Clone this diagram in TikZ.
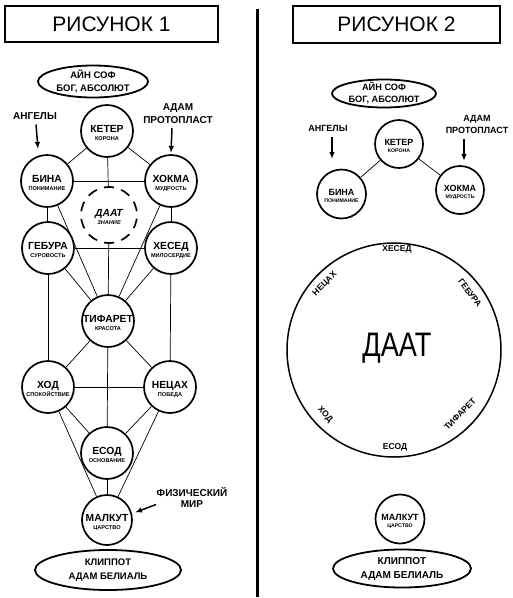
\documentclass[tikz,border=0pt]{standalone}
\usepackage{fontspec}
\setmainfont{Liberation Sans}
\usetikzlibrary{arrows.meta,backgrounds,shapes.geometric}
\newcommand\sefira[6]{%
  \node[sef,minimum size=#6] (#1) at (#2) {};
  \path (#1.center) ++(0,1.5) node[nm] (#1-n) {#3} ++(0,8) node[sb] (#1-s) {#4};}
\begin{document}
\begin{tikzpicture}[x=1pt,y=-1pt,
  sef/.style={circle,draw,line width=1.7pt,fill=white,inner sep=0pt},
  nm/.style={anchor=base,inner sep=0pt,font=\bfseries\fontsize{10.3}{10}\selectfont},
  sb/.style={anchor=base,inner sep=0pt,font=\bfseries\fontsize{5.6}{6}\selectfont},
  nmr/.style={anchor=base,inner sep=0pt,font=\bfseries\fontsize{9}{9}\selectfont},
  sbr/.style={anchor=base,inner sep=0pt,font=\bfseries\fontsize{5.2}{6}\selectfont},
  link/.style={line width=0.7pt},
  ptr/.style={line width=1.5pt,-{Latex[length=7pt,width=5.5pt]}},
  lbl/.style={inner sep=0pt,align=center,font=\bfseries\fontsize{10}{12.5}\selectfont},
  lblr/.style={inner sep=0pt,align=center,font=\bfseries\fontsize{9}{12.5}\selectfont},
  oval/.style={ellipse,draw,line width=1.8pt,fill=white,inner sep=0pt},
  titlebox/.style={draw,line width=1.3pt,inner sep=0pt,font=\fontsize{21}{24}\selectfont},
  ring/.style={inner sep=0pt,font=\bfseries\fontsize{8.5}{9}\selectfont}
]
\useasboundingbox (0,0) rectangle (513,598);

% titles and divider
\node[titlebox,minimum width=213pt,minimum height=36pt] (t1) at (111.5,24) {РИСУНОК 1};
\node[titlebox,minimum width=207pt,minimum height=37pt] (t2) at (396.5,24.5) {РИСУНОК 2};
\coordinate (divA) at (257,9);
\coordinate (divB) at (257,597);
\draw[line width=3pt] (divA) -- (divB);

% ===== left picture =====
\node[oval,minimum width=110pt,minimum height=32pt] (ain) at (93,81.5) {};
\node[lbl,font=\bfseries\fontsize{9.5}{13.5}\selectfont] (ain-t) at (ain) {АЙН СОФ\\БОГ, АБСОЛЮТ};

\sefira{keter}{107,131}{КЕТЕР}{КОРОНА}{}{52pt}
\sefira{bina}{47,181}{БИНА}{ПОНИМАНИЕ}{}{52pt}
\sefira{hokma}{171,181}{ХОКМА}{МУДРОСТЬ}{}{52pt}
\sefira{gebura}{48,248}{ГЕБУРА}{СУРОВОСТЬ}{}{52pt}
\sefira{hesed}{171,248}{ХЕСЕД}{МИЛОСЕРДИЕ}{}{52pt}
\sefira{tifaret}{108,321}{ТИФАРЕТ}{КРАСОТА}{}{52pt}
\sefira{hod}{48,387}{ХОД}{СПОКОЙСТВИЕ}{}{52pt}
\sefira{netsah}{170,387}{НЕЦАХ}{ПОБЕДА}{}{52pt}
\sefira{yesod}{107,453}{ЕСОД}{ОСНОВАНИЕ}{}{52pt}
\sefira{malkut}{107,520}{МАЛКУТ}{ЦАРСТВО}{}{50pt}

\node[circle,draw,line width=1.7pt,fill=white,inner sep=0pt,minimum size=56pt,
      dash pattern=on 10pt off 7.59pt,dash phase=13.8pt] (daat) at (109,215) {};
\path (daat.center) ++(0,1.5) node[nm,font=\bfseries\itshape\fontsize{10.3}{10}\selectfont] (daat-n) {ДААТ}
      ++(0,8) node[sb,font=\bfseries\itshape\fontsize{5.6}{6}\selectfont] (daat-s) {ЗНАНИЕ};

\node[oval,minimum width=146pt,minimum height=40pt] (klip) at (108,570) {};
\node[lbl,font=\bfseries\fontsize{9.5}{14}\selectfont] (klip-t) at (klip) {КЛИППОТ\\АДАМ БЕЛИАЛЬ};

\begin{scope}[on background layer]
  \draw[link] (keter) -- (bina);
  \draw[link] (keter) -- (hokma);
  \draw[link] (keter) -- (daat);
  \draw[link] (bina) -- (hokma);
  \draw[link] (bina) -- (gebura);
  \draw[link] (hokma) -- (hesed);
  \draw[link] (bina) -- (tifaret);
  \draw[link] (hokma) -- (tifaret);
  \draw[link] (daat) -- (tifaret);
  \draw[link] (gebura) -- (hesed);
  \draw[link] (gebura) -- (tifaret);
  \draw[link] (hesed) -- (tifaret);
  \draw[link] (gebura) -- (hod);
  \draw[link] (hesed) -- (netsah);
  \draw[link] (tifaret) -- (hod);
  \draw[link] (tifaret) -- (netsah);
  \draw[link] (tifaret) -- (yesod);
  \draw[link] (hod) -- (netsah);
  \draw[link] (hod) -- (yesod);
  \draw[link] (netsah) -- (yesod);
  \draw[link] (hod) -- (malkut);
  \draw[link] (netsah) -- (malkut);
  \draw[link] (yesod) -- (malkut);
\end{scope}

\node[lbl] (angL) at (35,116) {АНГЕЛЫ};
\coordinate (angLst) at (36,124.5);
\coordinate (angLend) at (38,149);
\draw[ptr] (angLst) -- (angLend);
\node[lbl] (adamL) at (178,113.5) {АДАМ\\ПРОТОПЛАСТ};
\coordinate (adamLst) at (172,128);
\coordinate (adamLend) at (171,153);
\draw[ptr] (adamLst) -- (adamLend);
\node[lbl,font=\bfseries\fontsize{10}{11.5}\selectfont] (fiz) at (192,497.5) {ФИЗИЧЕСКИЙ\\МИР};
\coordinate (fizSt) at (156,504.5);
\coordinate (fizEnd) at (135,512.5);
\draw[ptr] (fizSt) -- (fizEnd);

% ===== right picture =====
\node[oval,minimum width=104pt,minimum height=28pt] (ainR) at (384,93.5) {};
\node[lblr,font=\bfseries\fontsize{9.2}{12}\selectfont] (ainR-t) at (ainR) {АЙН СОФ\\БОГ, АБСОЛЮТ};

\node[sef,minimum size=48pt] (keterR) at (399,144) {};
\path (keterR.center) ++(0,1) node[nmr] (keterR-n) {КЕТЕР} ++(0,7.5) node[sbr] (keterR-s) {КОРОНА};
\node[sef,minimum size=49pt] (binaR) at (341.5,194) {};
\path (binaR.center) ++(0,1) node[nmr] (binaR-n) {БИНА} ++(0,7.5) node[sbr] (binaR-s) {ПОНИМАНИЕ};
\node[sef,minimum size=48pt] (hokmaR) at (460,190) {};
\path (hokmaR.center) ++(0,1) node[nmr] (hokmaR-n) {ХОКМА} ++(0,7.5) node[sbr] (hokmaR-s) {МУДРОСТЬ};

\begin{scope}[on background layer]
  \draw[link] (keterR) -- (binaR);
  \draw[link] (keterR) -- (hokmaR);
\end{scope}

\node[lblr] (angR) at (328,128) {АНГЕЛЫ};
\coordinate (angRst) at (332,137);
\coordinate (angRend) at (332,159);
\draw[ptr] (angRst) -- (angRend);
\node[lblr] (adamR) at (477,124.5) {АДАМ\\ПРОТОПЛАСТ};
\coordinate (adamRst) at (464,139);
\coordinate (adamRend) at (464,161);
\draw[ptr] (adamRst) -- (adamRend);

\node[circle,draw,line width=1.5pt,inner sep=0pt,minimum size=214pt] (bigdaat) at (394,350) {};
\node[inner sep=0pt,font=\fontsize{34}{34}\selectfont] (bigdaat-t) at (397,348) {\scalebox{0.8}[1]{ДААТ}};
\node[ring] (r-hesed) at (397,249) {ХЕСЕД};
\node[ring,rotate=45] (r-netsah) at (325,284) {НЕЦАХ};
\node[ring,rotate=-53] (r-gebura) at (470,293) {ГЕБУРА};
\node[ring,rotate=-47] (r-hod) at (325,415) {ХОД};
\node[ring,rotate=46] (r-tifaret) at (460,414) {ТИФАРЕТ};
\node[ring] (r-yesod) at (395,447) {ЕСОД};

\node[sef,minimum size=49pt] (malkutR) at (400,519) {};
\path (malkutR.center) ++(0,1) node[nmr] (malkutR-n) {МАЛКУТ} ++(0,7.5) node[sbr] (malkutR-s) {ЦАРСТВО};
\node[oval,minimum width=138pt,minimum height=38pt] (klipR) at (402,568.5) {};
\node[lbl,font=\bfseries\fontsize{10}{14}\selectfont] (klipR-t) at (klipR) {КЛИППОТ\\АДАМ БЕЛИАЛЬ};
\end{tikzpicture}
\end{document}
